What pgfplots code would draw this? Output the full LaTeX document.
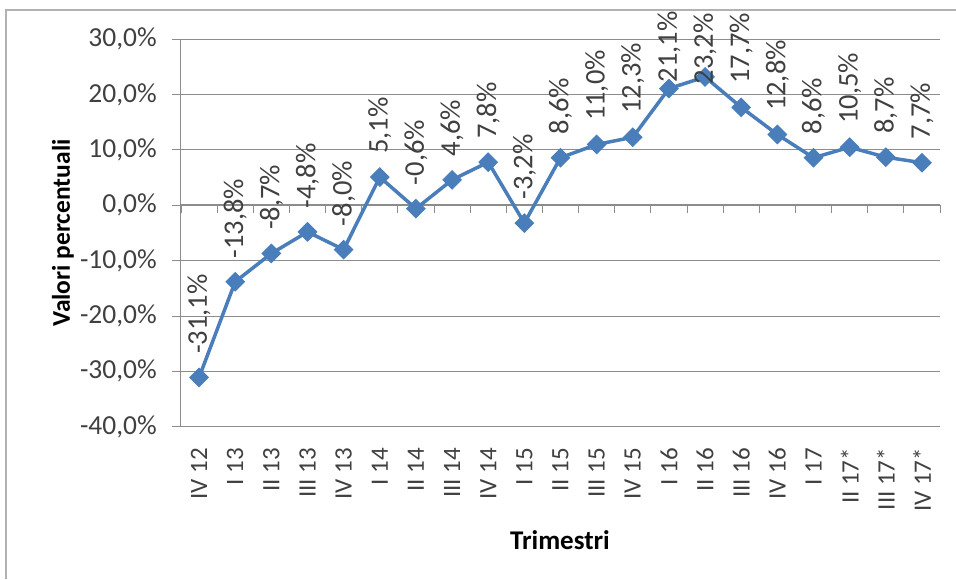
\documentclass[border=0pt]{standalone}
\usepackage{fontspec}
\setmainfont{Carlito}
\usepackage{pgfplots}
\usepackage{pgfplotstable}
\pgfplotsset{compat=1.18}
\definecolor{serie}{HTML}{4A7EBB}
\definecolor{griglia}{HTML}{8C8C8C}
\definecolor{testo}{HTML}{404040}

% off = distanza dell'etichetta dal punto
\pgfplotstableread{
x y off
0 -31.1 23
1 -13.8 23
2 -8.7 23
3 -4.8 23
4 -8.0 23
5 5.1 23
6 -0.6 23
7 4.6 23
8 7.8 23
9 -3.2 23
10 8.6 23
11 11.0 23
12 12.3 23
13 21.1 6
14 23.2 -8
15 17.7 23
16 12.8 23
17 8.6 23
18 10.5 23
19 8.7 23
20 7.7 23
}\dati

\begin{document}
\begin{tikzpicture}[x=1pt,y=1pt]
\useasboundingbox (0,0) rectangle (956,579);
\draw[color=black!30, line width=2pt] (6,0) -- (6,569) -- (956,569);
\begin{scope}
\clip (7,0) rectangle (956,568);

% asse orizzontale sullo zero con le tacche tra le categorie
\begin{axis}[
	at={(181pt,374pt)}, anchor=south west,
	scale only axis, width=759pt, height=10pt,
	xmin=-0.5, xmax=20.5, ymin=0, ymax=1,
	axis x line=bottom, axis y line=none,
	x axis line style={-, griglia, line width=1pt},
	xtick={-0.5,0.5,...,20.5}, xticklabels={},
	tick align=outside, major tick length=8pt,
	xtick style={griglia, line width=1pt},
]
\end{axis}

\begin{axis}[
	at={(181pt,152.3pt)}, anchor=south west,
	scale only axis, width=759pt, height=387.4pt,
	xmin=-0.5, xmax=20.5, ymin=-40, ymax=30,
	axis lines*=left,
	x axis line style={draw=none},
	y axis line style={-, griglia, line width=1pt},
	ytick={-40,-30,...,30},
	yticklabels={{-40,0\%},{-30,0\%},{-20,0\%},{-10,0\%},{0,0\%},{10,0\%},{20,0\%},{30,0\%}},
	ymajorgrids, major grid style={griglia, line width=1pt},
	ytick style={griglia, line width=1pt},
	tick align=outside, major tick length=9pt,
	xtick={0,...,20},
	xticklabels={IV 12,I 13,II 13,III 13,IV 13,I 14,II 14,III 14,IV 14,I 15,II 15,III 15,IV 15,I 16,II 16,III 16,IV 16,I 17,II 17*,III 17*,IV 17*},
	xtick style={draw=none},
	tick label style={text=testo},
	yticklabel style={font=\fontsize{27.5}{27.5}\selectfont, inner xsep=15pt},
	xticklabel style={font=\fontsize{25}{25}\selectfont, rotate=90, anchor=east, inner xsep=12pt},
	ylabel={Valori percentuali},
	xlabel={Trimestri},
	every axis y label/.style={at={(axis description cs:-0.1555,0.5)}, rotate=90, anchor=center, font=\fontsize{25.5}{25.5}\selectfont\bfseries},
	every axis x label/.style={at={(axis description cs:0.4993,-0.2925)}, anchor=center, font=\fontsize{27}{27}\selectfont\bfseries},
	visualization depends on={\thisrow{off} \as \off},
	nodes near coords={\pgfmathprintnumber[fixed, fixed zerofill, precision=1, use comma, assume math mode=true]{\pgfplotspointmeta}\%},
	every node near coord/.append style={rotate=90, anchor=west, inner ysep=0pt, inner xsep=0pt, xshift=\off pt, font=\fontsize{28.5}{28.5}\selectfont, text=testo},
	clip=false,
]
\addplot[serie, line width=3.5pt, mark=square*, mark size=6.5pt, mark options={rotate=45, line width=1pt, fill=serie}] table[x=x, y=y] {\dati};
\end{axis}
\end{scope}
\end{tikzpicture}
\end{document}
